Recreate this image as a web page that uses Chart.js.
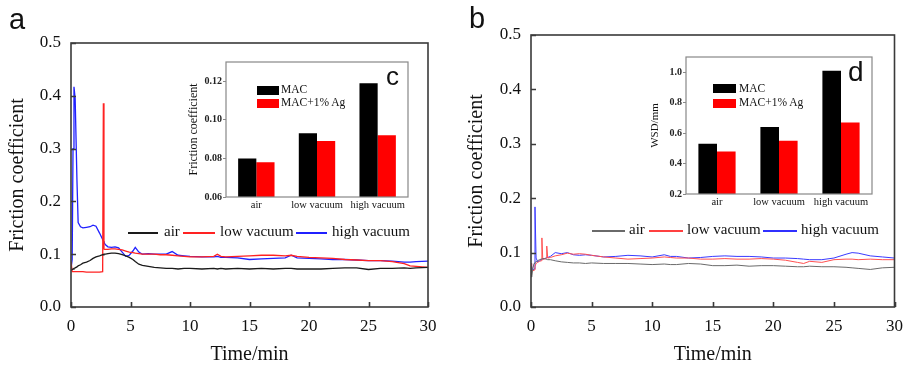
<!DOCTYPE html>
<html>
<head>
<meta charset="utf-8">
<script src="https://cdn.jsdelivr.net/npm/chart.js@4.4.1/dist/chart.umd.min.js"></script>
<style>
  body { margin: 0; width: 904px; height: 367px; overflow: hidden; background: #fff; position: relative; }
  canvas { position: absolute; }
  .txt { position: absolute; white-space: nowrap; color: #111; }
  .serif { font-family: "Liberation Serif", "Times New Roman", serif; }
  .sans { font-family: "Liberation Sans", Arial, sans-serif; }
  .mark { position: absolute; }
</style>
</head>
<body>
<canvas id="chartA" width="450" height="367" style="left:0;top:0"></canvas>
<canvas id="chartB" width="462" height="367" style="left:450px;top:0"></canvas>
<canvas id="insetC" width="240" height="170" style="left:180px;top:50px"></canvas>
<canvas id="insetD" width="260" height="170" style="left:630px;top:45px"></canvas>
<script>
// ---- data ----
const seriesNames = ['air', 'low vacuum', 'high vacuum'];

// panel a: friction coefficient vs time
const timeA = [0, 0.1, 0.17, 0.25, 0.35, 0.5, 0.6, 0.8, 1.0, 1.3,
  1.6, 1.85, 2.1, 2.4, 2.66, 2.72, 2.77, 2.83, 2.9, 3.1,
  3.4, 3.7, 4.0, 4.3, 4.6, 4.9, 5.2, 5.4, 5.7, 6.0,
  6.5, 7.0, 7.5, 8.0, 8.5, 9.0, 9.5, 10, 11, 12,
  12.3, 12.6, 13, 14, 15, 16, 17, 18, 18.5, 19,
  20, 21, 22, 23, 24, 25, 26, 27, 28, 28.5, 29, 30];
const airA = [0.070, 0.071, 0.072, 0.073, 0.074, 0.076, 0.078, 0.080, 0.083, 0.085,
  0.088, 0.092, 0.095, 0.097, 0.099, 0.099, 0.100, 0.100, 0.100, 0.101,
  0.102, 0.102, 0.101, 0.099, 0.097, 0.094, 0.090, 0.086, 0.081, 0.079,
  0.077, 0.075, 0.074, 0.073, 0.073, 0.072, 0.073, 0.073, 0.072, 0.073,
  0.072, 0.073, 0.072, 0.073, 0.072, 0.073, 0.072, 0.073, 0.073, 0.072,
  0.072, 0.072, 0.073, 0.074, 0.074, 0.071, 0.073, 0.073, 0.074, 0.073, 0.074, 0.075];
const lowA = [0.085, 0.067, 0.067, 0.067, 0.067, 0.067, 0.067, 0.067, 0.067, 0.066,
  0.066, 0.066, 0.066, 0.066, 0.067, 0.386, 0.110, 0.109, 0.109, 0.109,
  0.110, 0.110, 0.109, 0.108, 0.106, 0.104, 0.103, 0.102, 0.101, 0.100,
  0.100, 0.100, 0.099, 0.099, 0.098, 0.097, 0.096, 0.095, 0.095, 0.096,
  0.100, 0.096, 0.095, 0.096, 0.097, 0.098, 0.098, 0.097, 0.098, 0.096,
  0.094, 0.093, 0.092, 0.090, 0.089, 0.088, 0.088, 0.086, 0.082, 0.078, 0.077, 0.075];
const highA = [0.072, 0.090, 0.300, 0.417, 0.395, 0.240, 0.160, 0.152, 0.150, 0.151,
  0.152, 0.155, 0.153, 0.140, 0.128, 0.125, 0.123, 0.120, 0.118, 0.114,
  0.113, 0.114, 0.112, 0.104, 0.096, 0.098, 0.106, 0.113, 0.104, 0.100,
  0.101, 0.100, 0.100, 0.100, 0.105, 0.098, 0.097, 0.096, 0.095, 0.095,
  0.096, 0.094, 0.094, 0.093, 0.090, 0.091, 0.092, 0.093, 0.098, 0.093,
  0.092, 0.091, 0.090, 0.090, 0.089, 0.088, 0.088, 0.087, 0.085, 0.085, 0.086, 0.087];

// panel b
const timeB = [0, 0.05, 0.15, 0.25, 0.33, 0.42, 0.55, 0.7, 0.85, 0.9,
  0.97, 1.1, 1.25, 1.3, 1.38, 1.6, 2.0, 2.5, 3, 3.5,
  4, 4.5, 5, 6, 7, 8, 9, 10, 11, 11.5,
  12, 13, 14, 15, 16, 17, 18, 19, 20, 21,
  22, 22.5, 23, 24, 25, 26, 26.5, 27, 28, 29, 30];
const airB = [0.075, 0.055, 0.070, 0.080, 0.082, 0.083, 0.085, 0.087, 0.088, 0.088,
  0.089, 0.089, 0.088, 0.088, 0.087, 0.087, 0.085, 0.083, 0.082, 0.081,
  0.081, 0.080, 0.081, 0.080, 0.080, 0.080, 0.079, 0.078, 0.079, 0.078,
  0.078, 0.080, 0.079, 0.076, 0.076, 0.077, 0.075, 0.076, 0.076, 0.075,
  0.074, 0.074, 0.075, 0.074, 0.074, 0.073, 0.072, 0.071, 0.069, 0.072, 0.073];
const lowB = [0.080, 0.070, 0.066, 0.068, 0.075, 0.080, 0.082, 0.084, 0.085, 0.127,
  0.088, 0.088, 0.090, 0.112, 0.090, 0.091, 0.094, 0.096, 0.099, 0.097,
  0.098, 0.097, 0.095, 0.092, 0.090, 0.088, 0.089, 0.090, 0.092, 0.091,
  0.090, 0.090, 0.088, 0.088, 0.089, 0.088, 0.088, 0.089, 0.088, 0.086,
  0.082, 0.080, 0.084, 0.082, 0.087, 0.088, 0.088, 0.087, 0.088, 0.087, 0.087];
const highB = [0.080, 0.075, 0.068, 0.070, 0.184, 0.090, 0.083, 0.085, 0.087, 0.087,
  0.088, 0.089, 0.090, 0.091, 0.091, 0.093, 0.100, 0.098, 0.100, 0.096,
  0.095, 0.096, 0.095, 0.092, 0.093, 0.095, 0.094, 0.092, 0.096, 0.093,
  0.093, 0.090, 0.091, 0.093, 0.094, 0.093, 0.093, 0.092, 0.090, 0.090,
  0.089, 0.088, 0.087, 0.087, 0.090, 0.097, 0.100, 0.099, 0.094, 0.092, 0.090];

// insets
const barCats = ['air', 'low vacuum', 'high vacuum'];
const barNames = ['MAC', 'MAC+1% Ag'];
const cofMAC = [0.080, 0.093, 0.119];
const cofAg = [0.078, 0.089, 0.092];
const wsdMAC = [0.53, 0.64, 1.01];
const wsdAg = [0.48, 0.55, 0.67];

const SERIF = '"Liberation Serif", "Times New Roman", serif';

// frame around plot area, optional inward ticks
const frameTicks = {
  id: 'frameTicks',
  afterDatasetsDraw(chart, args, opts) {
    const { ctx, chartArea: a, scales } = chart;
    ctx.save();
    ctx.strokeStyle = opts.color;
    ctx.lineWidth = opts.width;
    ctx.strokeRect(a.left, a.top, a.right - a.left, a.bottom - a.top);
    if (opts.inward) {
      ctx.beginPath();
      scales.x.ticks.forEach(t => {
        const px = Math.round(scales.x.getPixelForValue(t.value)) + 0.5;
        ctx.moveTo(px, a.bottom); ctx.lineTo(px, a.bottom - opts.len);
      });
      scales.y.ticks.forEach(t => {
        const py = Math.round(scales.y.getPixelForValue(t.value)) + 0.5;
        ctx.moveTo(a.left, py); ctx.lineTo(a.left + opts.len, py);
      });
      ctx.stroke();
    }
    ctx.restore();
  }
};

function lineChart(id, times, series, colors, o) {
  return new Chart(document.getElementById(id), {
    type: 'line',
    data: {
      datasets: series.map((s, i) => ({
        label: seriesNames[i],
        data: times.map((t, j) => ({ x: t, y: s[j] })),
        borderColor: colors[i],
        borderWidth: o.lw,
        pointRadius: 0,
        tension: 0
      }))
    },
    options: {
      responsive: false,
      animation: false,
      layout: { padding: { top: o.top, right: o.right, left: 0, bottom: 0 } },
      plugins: {
        legend: { display: false },
        tooltip: { enabled: false },
        frameTicks: { color: '#3a3a3a', width: 1.6, inward: true, len: 5 }
      },
      scales: {
        x: {
          type: 'linear', min: 0, max: 30,
          grid: { display: false, drawTicks: false },
          border: { display: false },
          ticks: { stepSize: 5, color: '#111', font: { family: SERIF, size: 17 }, padding: 9, maxRotation: 0, autoSkip: false },
          title: { display: true, text: 'Time/min', color: '#111', font: { family: SERIF, size: 20 }, padding: 0 },
          afterFit: s => { s.height = 60; }
        },
        y: {
          min: 0, max: 0.5,
          grid: { display: false, drawTicks: false },
          border: { display: false },
          ticks: { stepSize: 0.1, color: '#111', font: { family: SERIF, size: 17 }, padding: 10, callback: v => v.toFixed(1) },
          title: { display: true, text: 'Friction coefficient', color: '#111', font: { family: SERIF, size: 20 }, padding: { top: o.titlePad } },
          afterFit: s => { s.width = o.yw; }
        }
      }
    },
    plugins: [frameTicks]
  });
}

function barChart(id, macVals, agVals, o) {
  return new Chart(document.getElementById(id), {
    type: 'bar',
    data: {
      labels: barCats,
      datasets: [
        { label: barNames[0], data: macVals, backgroundColor: '#000', borderWidth: 0, categoryPercentage: 0.6, barPercentage: 1 },
        { label: barNames[1], data: agVals, backgroundColor: '#ff0000', borderWidth: 0, categoryPercentage: 0.6, barPercentage: 1 }
      ]
    },
    options: {
      responsive: false,
      animation: false,
      layout: { padding: { top: o.top, right: o.right, left: 0, bottom: 0 } },
      plugins: {
        legend: { display: false },
        tooltip: { enabled: false },
        frameTicks: { color: '#888', width: 1.2, inward: false }
      },
      scales: {
        x: {
          grid: { display: false, drawTicks: false },
          border: { display: false },
          ticks: { color: '#111', font: { family: SERIF, size: 10.5 }, padding: 2, maxRotation: 0, minRotation: 0, autoSkip: false },
          afterFit: s => { s.height = o.xh; }
        },
        y: {
          min: o.min, max: o.max,
          grid: { drawOnChartArea: false, tickLength: 3, color: '#888' },
          border: { display: false },
          ticks: { stepSize: o.step, color: '#222', font: { family: SERIF, size: 10, weight: 'bold' }, padding: 1, callback: v => v.toFixed(o.dec) },
          afterBuildTicks: s => { s.ticks = s.ticks.filter(t => t.value <= o.lastTick + 1e-9); },
          title: { display: true, text: o.title, color: '#111', font: { family: SERIF, size: o.titleSize }, padding: { top: o.titlePad } },
          afterFit: s => { s.width = o.yw; }
        }
      }
    },
    plugins: [frameTicks]
  });
}

lineChart('chartA', timeA, [airA, lowA, highA], ['#1a1a1a', '#ff2222', '#2020ff'],
  { lw: 1.3, top: 43, right: 22, yw: 71, titlePad: 6 });
lineChart('chartB', timeB, [airB, lowB, highB], ['#6a6a6a', '#ff5050', '#3a3aff'],
  { lw: 1, top: 35, right: 15, yw: 81, titlePad: 15 });

barChart('insetC', cofMAC, cofAg,
  { min: 0.06, max: 0.13, step: 0.02, lastTick: 0.12, dec: 2, title: 'Friction coefficient', titleSize: 12, titlePad: 7, top: 12, right: 12, xh: 23, yw: 46 });
barChart('insetD', wsdMAC, wsdAg,
  { min: 0.2, max: 1.1, step: 0.2, lastTick: 1.0, dec: 1, title: 'WSD/mm', titleSize: 11, titlePad: 19, top: 12, right: 18, xh: 21, yw: 56 });

// ---- legends and panel letters (HTML overlay) ----
function addLine(x1, x2, y, color, w) {
  const d = document.createElement('div');
  d.className = 'mark';
  Object.assign(d.style, { left: x1 + 'px', top: (y - w / 2) + 'px', width: (x2 - x1) + 'px', height: w + 'px', background: color });
  document.body.appendChild(d);
}
function addBox(x1, x2, y1, y2, color) {
  const d = document.createElement('div');
  d.className = 'mark';
  Object.assign(d.style, { left: x1 + 'px', top: y1 + 'px', width: (x2 - x1) + 'px', height: (y2 - y1) + 'px', background: color });
  document.body.appendChild(d);
}
function addText(x, top, text, size, cls) {
  const d = document.createElement('div');
  d.className = 'txt ' + cls;
  d.textContent = text;
  Object.assign(d.style, { left: x + 'px', top: top + 'px', fontSize: size + 'px', lineHeight: size + 'px' });
  document.body.appendChild(d);
}

// panel a legend
addLine(128, 158, 233, '#1a1a1a', 1.5);
addText(164, 233 - 9, seriesNames[0], 15, 'serif');
addLine(183, 215, 233, '#ff2222', 1.5);
addText(220, 233 - 9, seriesNames[1], 15, 'serif');
addLine(296, 327, 233, '#2020ff', 1.5);
addText(332, 233 - 9, seriesNames[2], 15, 'serif');

// panel b legend
addLine(592, 625, 231, '#6a6a6a', 1.2);
addText(629, 231 - 9, seriesNames[0], 15, 'serif');
addLine(649, 683, 231, '#ff4040', 1.2);
addText(687, 231 - 9, seriesNames[1], 15, 'serif');
addLine(763, 797, 231, '#3030ff', 1.2);
addText(801, 231 - 9, seriesNames[2], 15, 'serif');

// inset c legend
addBox(257, 279, 86, 95, '#000');
addText(281, 90 - 6, barNames[0], 11.5, 'serif');
addBox(257, 279, 99, 108, '#ff0000');
addText(281, 103 - 6, barNames[1], 11.5, 'serif');

// inset d legend
addBox(713, 736, 84, 93, '#000');
addText(739, 89 - 6, barNames[0], 11.5, 'serif');
addBox(713, 736, 99, 108, '#ff0000');
addText(739, 103 - 6, barNames[1], 11.5, 'serif');

// panel letters
addText(9, 5, 'a', 29, 'sans');
addText(469, 4, 'b', 29, 'sans');
addText(386, 63, 'c', 26, 'sans');
addText(848, 58, 'd', 28, 'sans');
</script>
</body>
</html>
